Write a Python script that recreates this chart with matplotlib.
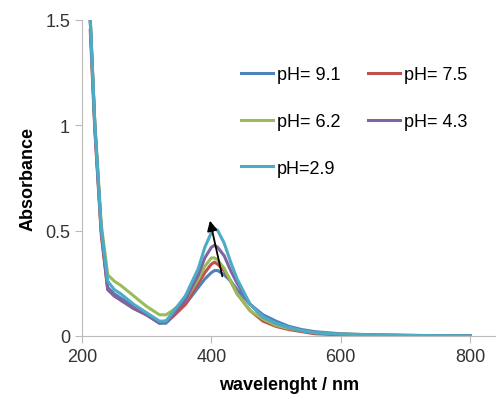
import matplotlib.pyplot as plt
import numpy as np

plt.rcParams['font.family'] = ['Liberation Sans', 'DejaVu Sans']

# wavelength grid (nm) and absorbance
wavelength = [213, 220, 230, 240, 250, 260, 280, 300, 320, 330, 340, 360, 380, 390,
              400, 405, 410, 420, 430, 440, 460, 480, 500, 520, 540, 560, 600, 650,
              700, 750, 800]

abs_91 = [1.5, 1.0, 0.5, 0.23, 0.20, 0.18, 0.14, 0.10, 0.06, 0.06, 0.09, 0.15, 0.23, 0.27,
          0.30, 0.31, 0.31, 0.29, 0.26, 0.22, 0.15, 0.10, 0.07, 0.045, 0.03, 0.02, 0.01, 0.005,
          0.003, 0.001, 0.0]
abs_75 = [1.45, 0.98, 0.48, 0.22, 0.19, 0.17, 0.13, 0.10, 0.065, 0.07, 0.09, 0.15, 0.25, 0.30,
          0.34, 0.35, 0.34, 0.31, 0.26, 0.20, 0.12, 0.07, 0.045, 0.03, 0.02, 0.01, 0.005, 0.002,
          0.001, 0.0, 0.0]
abs_62 = [1.5, 1.02, 0.53, 0.29, 0.26, 0.24, 0.19, 0.14, 0.10, 0.10, 0.12, 0.17, 0.27, 0.33,
          0.37, 0.37, 0.36, 0.32, 0.26, 0.20, 0.12, 0.08, 0.05, 0.035, 0.025, 0.015, 0.01, 0.004,
          0.002, 0.001, 0.0]
abs_43 = [1.5, 1.0, 0.5, 0.22, 0.19, 0.17, 0.13, 0.10, 0.06, 0.07, 0.10, 0.17, 0.29, 0.37,
          0.42, 0.43, 0.42, 0.38, 0.31, 0.25, 0.15, 0.09, 0.06, 0.04, 0.025, 0.015, 0.008, 0.004,
          0.002, 0.001, 0.0]
abs_29 = [1.5, 1.01, 0.51, 0.26, 0.22, 0.20, 0.15, 0.11, 0.07, 0.07, 0.11, 0.19, 0.32, 0.42,
          0.49, 0.51, 0.50, 0.44, 0.35, 0.27, 0.15, 0.09, 0.06, 0.04, 0.025, 0.015, 0.008, 0.004,
          0.002, 0.001, 0.0]

labels = ['pH= 9.1', 'pH= 7.5', 'pH= 6.2', 'pH= 4.3', 'pH=2.9']
colors = ['#4F81BD', '#C0504D', '#9BBB59', '#8064A2', '#4BACC6']
series = [abs_91, abs_75, abs_62, abs_43, abs_29]

fig = plt.figure(figsize=(4.96, 4.02), dpi=100)
ax = fig.add_axes([0.165, 0.162, 0.835, 0.786])

handles = []
for y, lab, c in zip(series, labels, colors):
    h, = ax.plot(wavelength, y, color=c, lw=2.2, label=lab)
    handles.append(h)

# arrow showing increase of the 400 nm band
ax.annotate('', xy=(397, 0.56), xytext=(418, 0.27),
            arrowprops=dict(arrowstyle='-|>', color='black', lw=1.3, mutation_scale=15))

ax.set_xlim(200, 840)
ax.set_ylim(0, 1.5)
ax.set_xticks([200, 400, 600, 800])
ax.set_yticks([0, 0.5, 1, 1.5])
ax.set_yticklabels(['0', '0.5', '1', '1.5'])
for s in ['top', 'right']:
    ax.spines[s].set_visible(False)
for s in ['left', 'bottom']:
    ax.spines[s].set_color('#BBBBBB')
ax.tick_params(colors='#BBBBBB', labelcolor='#333333', labelsize=13, length=5)

ax.set_xlabel('wavelenght / nm', fontsize=13, fontweight='bold', labelpad=8)
ax.set_ylabel('Absorbance', fontsize=13, fontweight='bold', labelpad=6)

# row-wise order like the original legend
order = [0, 2, 4, 1, 3]
ax.legend([handles[i] for i in order], [labels[i] for i in order],
          ncol=2, frameon=False, fontsize=13, loc='upper left',
          bbox_to_anchor=(0.345, 0.905), handlelength=1.8, handletextpad=0.2,
          labelspacing=1.65, columnspacing=1.5)

plt.savefig('out.png', dpi=100)
